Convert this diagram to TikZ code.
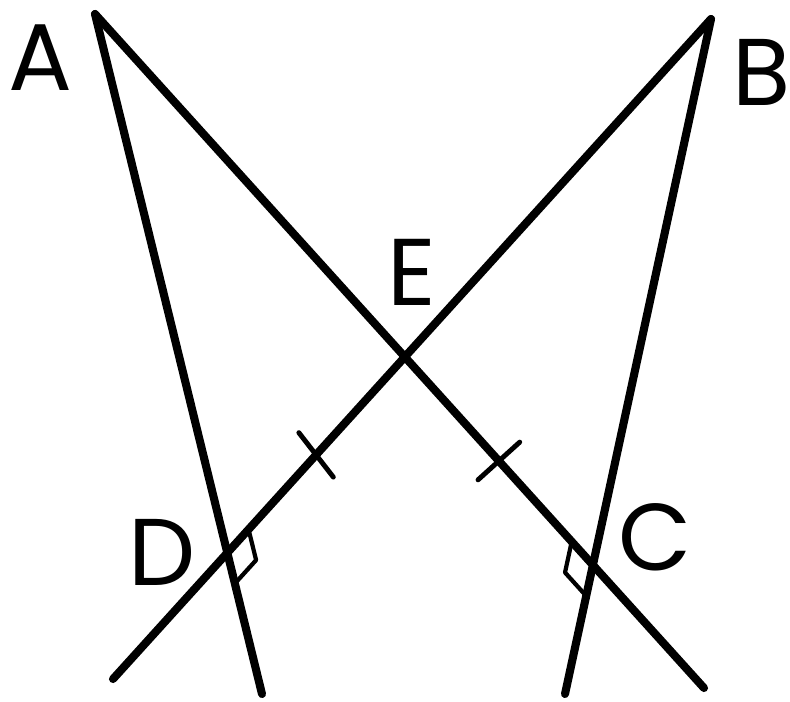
\documentclass[tikz,border=0pt]{standalone}
\usepackage{fontspec}
\setmainfont{Poppins}
\usetikzlibrary{calc,intersections}
\tikzset{
    side/.style={line width=4.6pt, line cap=round},
    tickmark/.style={line width=2.8pt, line cap=round},
    rightmark/.style={line width=2.4pt, line join=round},
    ptlabel/.style={font=\fontsize{54}{54}\selectfont, inner sep=0pt}
}

\begin{document}
\begin{tikzpicture}[x=0.02cm, y=-0.02cm]

\useasboundingbox (0,0) rectangle (790,701);

% end points
\coordinate (A) at (95,14);
\coordinate (B) at (711,19);
\coordinate (Abot) at (262,694);
\coordinate (Aright) at (704,688);
\coordinate (Bbot) at (565,694);
\coordinate (Bleft) at (113,679);

% the four lines
\draw[side, name path=ad] (A) -- (Abot);
\draw[side, name path=ac] (A) -- (Aright);
\draw[side, name path=bc] (B) -- (Bbot);
\draw[side, name path=bd] (B) -- (Bleft);

\path[name intersections={of=ad and bd, by=D}];
\path[name intersections={of=ac and bc, by=C}];
\path[name intersections={of=ac and bd, by=E}];

% equal marks
\coordinate (t1) at ($(E)!0.5!(D)$);
\coordinate (t2) at ($(E)!0.5!(C)$);
\draw[tickmark] ($(t1)!16pt!80:(E)$) -- ($(t1)!16pt!-100:(E)$);
\draw[tickmark] ($(t2)!16pt!90:(E)$) -- ($(t2)!16pt!-90:(E)$);

% right angles
\coordinate (d1) at ($(D)!18pt!(E)$);
\coordinate (d2) at ($(D)!18pt!(Abot)$);
\draw[rightmark] (d1) -- ($(d1)+(d2)-(D)$) -- (d2);
\coordinate (c1) at ($(C)!18pt!(E)$);
\coordinate (c2) at ($(C)!18pt!(Bbot)$);
\draw[rightmark] (c1) -- ($(c1)+(c2)-(C)$) -- (c2);

% labels
\node[ptlabel] (la) at (40,58) {A};
\node[ptlabel] (lb) at (762,72) {B};
\node[ptlabel] (le) at (412,272) {E};
\node[ptlabel] (ld) at (162,552) {D};
\node[ptlabel] (lc) at (655,537) {C};

\end{tikzpicture}
\end{document}
